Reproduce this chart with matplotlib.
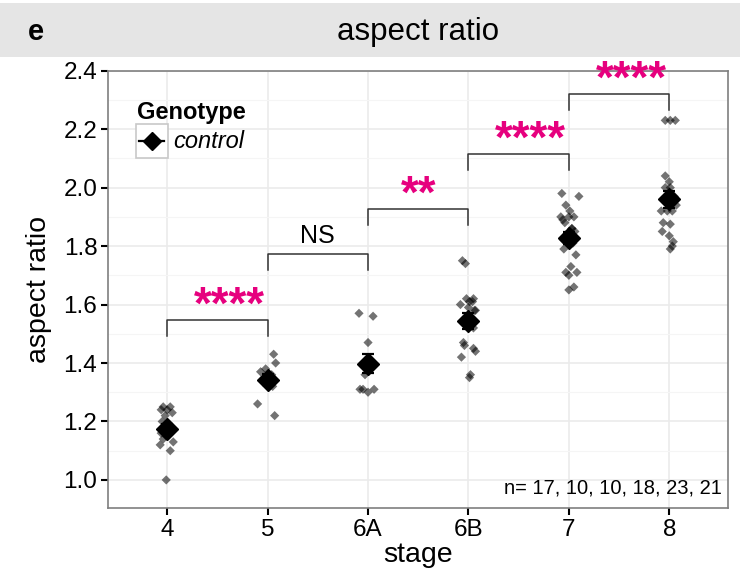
import numpy as np
import matplotlib
matplotlib.use("Agg")
import matplotlib.pyplot as plt
from matplotlib.lines import Line2D
from matplotlib.patches import Rectangle

plt.rcParams['font.family'] = ['Liberation Sans', 'DejaVu Sans']

stages = ['4', '5', '6A', '6B', '7', '8']

# aspect ratio values, one list per stage
s4 = [1.25, 1.25, 1.24, 1.24, 1.23, 1.22, 1.20, 1.19, 1.18, 1.17, 1.16, 1.15, 1.14, 1.13, 1.12, 1.10, 1.00]
s5 = [1.43, 1.40, 1.38, 1.37, 1.36, 1.35, 1.34, 1.32, 1.26, 1.22]
s6a = [1.57, 1.56, 1.47, 1.40, 1.38, 1.36, 1.31, 1.31, 1.30, 1.31]
s6b = [1.75, 1.74, 1.61, 1.62, 1.60, 1.59, 1.58, 1.52, 1.47, 1.46, 1.45, 1.44, 1.42, 1.36, 1.35, 1.62, 1.61, 1.58]
s7 = [1.98, 1.97, 1.94, 1.90, 1.90, 1.90, 1.88, 1.86, 1.82, 1.81, 1.79, 1.77, 1.73, 1.71, 1.71, 1.70,
      1.66, 1.65, 1.84, 1.85, 1.86, 1.89, 1.92]
s8 = [2.23, 2.23, 2.23, 2.04, 2.02, 2.00, 2.00, 1.94, 1.92, 1.92, 1.92, 1.88, 1.875, 1.85, 1.835,
      1.815, 1.80, 1.79, 1.97, 1.96, 1.95]
values = [s4, s5, s6a, s6b, s7, s8]

# horizontal jitter (in category units)
j4 = [-0.04, 0.03, 0.0, -0.06, 0.05, -0.02, -0.05, 0.02, -0.03, 0.04, -0.06, -0.01, -0.04, 0.06, -0.07, 0.03, -0.01]
j5 = [0.06, 0.08, -0.02, -0.07, 0.04, 0.01, -0.04, 0.05, -0.10, 0.07]
j6a = [-0.09, 0.05, 0.0, 0.02, 0.0, -0.03, -0.08, -0.05, 0.0, 0.06]
j6b = [-0.06, -0.03, 0.04, 0.05, -0.08, 0.0, 0.06, 0.05, -0.05, -0.04, 0.05, 0.07, -0.07, 0.02, 0.01, -0.02, 0.01, 0.07]
j7 = [-0.07, 0.10, -0.03, -0.08, 0.0, 0.05, -0.04, 0.03, -0.05, 0.04, -0.05, 0.07, 0.02, -0.03, 0.08, 0.0,
      0.05, 0.0, -0.02, 0.06, 0.03, -0.06, 0.01]
j8 = [-0.04, 0.01, 0.06, -0.04, 0.0, -0.04, 0.01, 0.07, -0.08, -0.02, 0.03, -0.06, 0.01, -0.07, 0.0,
      0.04, 0.03, 0.01, 0.05, -0.03, 0.02]
jitters = [j4, j5, j6a, j6b, j7, j8]

# significance brackets: (left stage, right stage, bracket height, label)
sig_left = [0, 1, 2, 3, 4]
sig_right = [1, 2, 3, 4, 5]
sig_y = [1.547, 1.772, 1.926, 2.114, 2.319]
sig_label = ['****', 'NS', '**', '****', '****']

counts = [len(v) for v in values]

fig = plt.figure(figsize=(7.4, 5.77), dpi=100)
ax = fig.add_axes([0.1466, 0.1196, 0.8372, 0.7579])

# title strip
fig.patches.append(Rectangle((0.0, 1 - 57 / 577), 1.0, 54 / 577, transform=fig.transFigure,
                             facecolor='#E5E5E5', edgecolor='none', zorder=0))
fig.text(0.565, 1 - 32 / 577, 'aspect ratio', ha='center', va='center', fontsize=22.5)
fig.text(0.037, 1 - 32 / 577, 'e', ha='left', va='center', fontsize=21, fontweight='bold')

for i, (v, j) in enumerate(zip(values, jitters)):
    v = np.array(v)
    ax.scatter(i + np.array(j), v, marker='D', s=22, color='black', alpha=0.55,
               edgecolors='none', zorder=3)
    m = v.mean()
    se = v.std(ddof=1) / np.sqrt(len(v))
    ax.errorbar(i, m, yerr=se, fmt='D', color='black', ms=11, capsize=4,
                elinewidth=1.6, capthick=1.6, zorder=4)

for a, b, y, lab in zip(sig_left, sig_right, sig_y, sig_label):
    ax.plot([a, a, b, b], [y - 0.055, y, y, y - 0.055], color='#333333', lw=1.1, zorder=2)
    if lab == 'NS':
        ax.text((a + b) / 2, y + 0.02, lab, ha='center', va='bottom', fontsize=18, color='black')
    else:
        shift = 0.12 if lab == '****' else 0.0
        ax.text((a + b) / 2 + shift, y - 0.03, lab, ha='center', va='bottom', fontsize=33,
                color='#E6007E', fontweight='bold')

ax.text(0.99, 0.025, 'n= ' + ', '.join(str(c) for c in counts), transform=ax.transAxes,
        ha='right', va='bottom', fontsize=14.5)

# legend drawn by hand
ax.text(0.046, 0.905, 'Genotype', transform=ax.transAxes, fontsize=17, fontweight='bold',
        ha='left', va='center')
ax.add_patch(Rectangle((0.0444, 0.80), 0.0517, 0.0777, transform=ax.transAxes,
                       facecolor='white', edgecolor='#C8C8C8', lw=1.2, zorder=5))
ax.add_line(Line2D([0.050, 0.090], [0.839, 0.839], transform=ax.transAxes, color='black',
                   lw=1.6, zorder=6))
ax.add_line(Line2D([0.070], [0.839], transform=ax.transAxes, color='black', marker='D',
                   ms=9, zorder=7))
ax.text(0.104, 0.839, 'control', transform=ax.transAxes, fontsize=17, style='italic',
        ha='left', va='center')

ax.set_xlim(-0.585, 5.585)
ax.set_ylim(0.904, 2.4)
ax.set_xticks(range(len(stages)))
ax.set_xticklabels(stages)
ax.set_yticks(np.arange(1.0, 2.41, 0.2))
ax.set_yticklabels(['%.1f' % t for t in np.arange(1.0, 2.41, 0.2)])
ax.set_yticks(np.arange(1.1, 2.4, 0.2), minor=True)
ax.grid(which='major', color='#EBEBEB', lw=1.2)
ax.grid(which='minor', axis='y', color='#F5F5F5', lw=0.8)
ax.set_axisbelow(True)
ax.tick_params(which='major', length=5, width=1.5, labelsize=17.5, color='black', pad=3)
ax.tick_params(which='minor', length=0)
for sp in ax.spines.values():
    sp.set_color('#7F7F7F')
    sp.set_linewidth(1.2)
ax.set_xlabel('stage', fontsize=20.5, labelpad=1)
ax.set_ylabel('aspect ratio', fontsize=20.5, labelpad=8)

fig.savefig('out.png', dpi=100)
